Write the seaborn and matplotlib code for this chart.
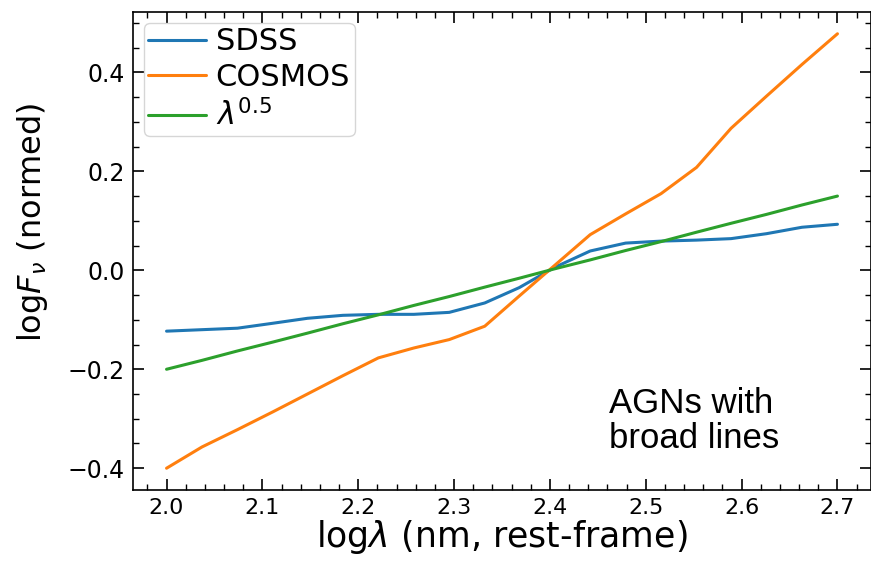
import numpy as np
import pandas as pd
import matplotlib
matplotlib.use("Agg")
import matplotlib.pyplot as plt
import seaborn as sns
from matplotlib.ticker import MultipleLocator

# ---- data ----
log_lam = [2.000, 2.037, 2.074, 2.111, 2.147, 2.184, 2.221, 2.258, 2.295, 2.332,
           2.368, 2.405, 2.442, 2.479, 2.516, 2.553, 2.589, 2.626, 2.663, 2.700]
sdss = [-0.123, -0.120, -0.117, -0.107, -0.097, -0.091, -0.089, -0.089, -0.085, -0.066,
        -0.035, 0.006, 0.039, 0.055, 0.059, 0.061, 0.064, 0.074, 0.087, 0.093]
cosmos = [-0.400, -0.357, -0.322, -0.286, -0.250, -0.213, -0.177, -0.157, -0.140, -0.113,
          -0.052, 0.010, 0.072, 0.114, 0.155, 0.208, 0.287, 0.352, 0.416, 0.478]
powerlaw = [-0.200, -0.182, -0.163, -0.145, -0.127, -0.108, -0.090, -0.071, -0.053, -0.034,
            -0.016, 0.003, 0.021, 0.040, 0.058, 0.077, 0.095, 0.113, 0.132, 0.150]
series_names = ["SDSS", "COSMOS", r"$\lambda^{0.5}$"]
colors = ["#1f77b4", "#ff7f0e", "#2ca02c"]

df = pd.DataFrame({
    "x": log_lam * 3,
    "y": sdss + cosmos + powerlaw,
    "series": [series_names[0]] * len(log_lam) + [series_names[1]] * len(log_lam)
              + [series_names[2]] * len(log_lam),
})

sns.set_style("ticks")
plt.rcParams["font.family"] = ["DejaVu Sans"]
plt.rcParams["mathtext.fontset"] = "dejavusans"
for k in ["text.color", "axes.labelcolor", "xtick.color", "ytick.color", "axes.edgecolor"]:
    plt.rcParams[k] = "black"

fig = plt.figure(figsize=(8.71, 5.69), dpi=100)
ax = fig.add_axes([133 / 871, 1 - 490 / 569, (871 - 133) / 871, (490 - 12) / 569])

sns.lineplot(data=df, x="x", y="y", hue="series", hue_order=series_names,
             palette=colors, linewidth=2.2, ax=ax, sort=False, estimator=None)

ax.set_xlim(1.965, 2.735)
ax.set_ylim(-0.444, 0.522)
ax.xaxis.set_major_locator(MultipleLocator(0.1))
ax.xaxis.set_minor_locator(MultipleLocator(0.02))
ax.yaxis.set_major_locator(MultipleLocator(0.2))
ax.yaxis.set_minor_locator(MultipleLocator(0.05))
ax.tick_params(which="both", direction="in", top=True, right=True, color="black")
ax.tick_params(which="major", length=8, width=1.2)
ax.tick_params(which="minor", length=4.5, width=1.0)
ax.tick_params(axis="y", which="major", labelsize=17, pad=6)
ax.tick_params(axis="x", which="major", labelsize=16, pad=6)
for s in ax.spines.values():
    s.set_linewidth(1.2)
    s.set_color("black")

ax.set_xlabel(r"log$\lambda$ (nm, rest-frame)", fontsize=25, labelpad=0)
ax.set_ylabel(r"log$F_\nu$ (normed)", fontsize=23)
ax.yaxis.set_label_coords(-0.112, 0.56)

handles, labels = ax.get_legend_handles_labels()
ax.legend(handles, labels, loc="upper left", fontsize=22, labelspacing=0.22,
          handlelength=1.9, handletextpad=0.3, borderpad=0.15, borderaxespad=0.35,
          frameon=True, fancybox=True, framealpha=0.8, edgecolor="#cccccc")

ax.text(2.462, -0.235, "AGNs with\nbroad lines", fontsize=25, va="top", ha="left",
        family=["Liberation Sans", "DejaVu Sans"], linespacing=1.1)

fig.savefig("out.png", dpi=100)
